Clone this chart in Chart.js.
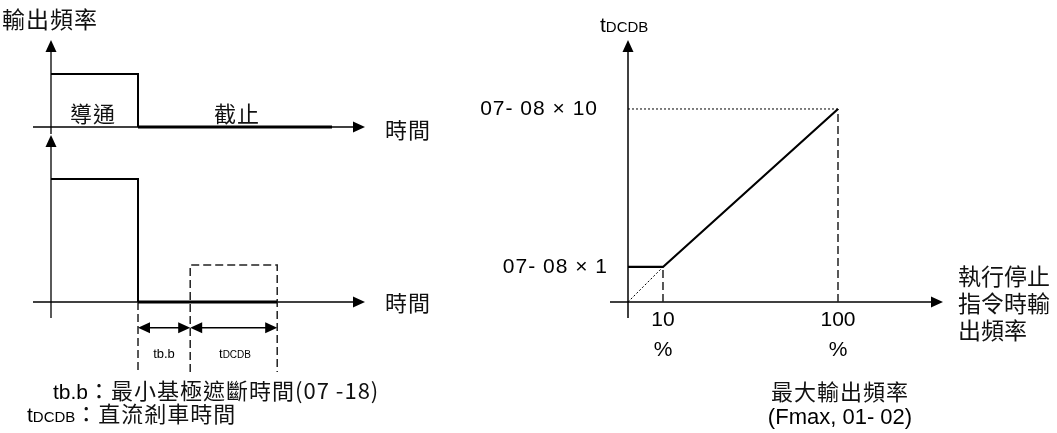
<!DOCTYPE html>
<html>
<head>
<meta charset="utf-8">
<script src="https://cdn.jsdelivr.net/npm/chart.js@4.4.0/dist/chart.umd.min.js"></script>
<style>
  html, body { margin: 0; padding: 0; background: #fff; }
  #stage { position: relative; width: 1057px; height: 433px; overflow: hidden; color: #000;
           font-family: "Liberation Sans", Arial, sans-serif; }
  #stage canvas { position: absolute; }
  .lbl { position: absolute; white-space: nowrap; line-height: 1; transform: translateY(-50%); }
  .mid { transform: translate(-50%, -50%); }
  .zh { font-family: "Noto Sans CJK TC", "Noto Sans CJK SC", sans-serif; font-size: 22px; letter-spacing: 1px; color: #111; }
  .en { font-family: "Liberation Sans", Arial, sans-serif; font-size: 21px; }
  .sub { font-size: 15px; }
</style>
</head>
<body>
<div id="stage">
  <canvas id="c-top" width="560" height="140" style="left:0;top:0"></canvas>
  <canvas id="c-bot" width="560" height="303" style="left:0;top:130px"></canvas>
  <canvas id="c-right" width="617" height="433" style="left:440px;top:0"></canvas>

  <!-- left diagram texts -->
  <div class="lbl zh" style="left:2px;top:18px;font-size:23px">輸出頻率</div>
  <div class="lbl zh" style="left:70px;top:112px">導通</div>
  <div class="lbl zh" style="left:214px;top:112px">截止</div>
  <div class="lbl zh" style="left:385px;top:128px">時間</div>
  <div class="lbl zh" style="left:385px;top:301px">時間</div>
  <div class="lbl en mid" style="left:164px;top:353px;font-size:13px">tb.b</div>
  <div class="lbl en mid" style="left:235px;top:353px;font-size:13px">t<span style="font-size:10px">DCDB</span></div>
  <div class="lbl" style="left:53px;top:390px"><span class="en">tb.b</span><span class="zh">：最小基極遮斷時間(07 -18)</span></div>
  <div class="lbl" style="left:27px;top:413px"><span class="en">t<span class="sub">DCDB</span></span><span class="zh">：直流剎車時間</span></div>

  <!-- right diagram texts -->
  <div class="lbl en" style="left:600px;top:24px">t<span class="sub">DCDB</span></div>
  <div class="lbl zh" style="left:958px;top:302px;line-height:27px;font-size:23px;letter-spacing:0">執行停止<br>指令時輸<br>出頻率</div>
  <div class="lbl zh mid" style="left:840px;top:390px">最大輸出頻率</div>
  <div class="lbl en mid" style="left:840px;top:417px;font-size:22px">(Fmax, 01- 02)</div>
</div>

<script>
// ---- left: output frequency against time (schematic time units) ----
const topTraceT = [0, 10, 10, 32.3];     // run, stop command, off until the end of the trace
const topTraceF = [1, 1, 0, 0];
const botTraceT = [0, 10, 10, 26];
const botTraceF = [1, 1, 0, 0];
const stopGuideT = [10, 10];
const stopGuideF = [0, -0.57];
const dcBoxT = [16, 16, 26, 26];         // tDCDB window after tb.b
const dcBoxF = [-0.57, 0.3, 0.3, -0.57];
const spanFrom = [10, 16];               // tb.b, tDCDB
const spanTo = [16, 26];
const spanLevel = -0.21;

// ---- right: tDCDB against output frequency at stop ----
const freqAxisStart = 6.31;              // % Fmax where the axes cross
const dcAxisStart = 0.6;                 // multiples of 07-08 where the axes cross
const freqTicks = [10, 100];
const freqTickLabels = [['10', '%'], ['100', '%']];
const dcTicks = [1, 10];
const dcTickLabels = ['07- 08 × 1', '07- 08 × 10'];
const curveFreq = [freqAxisStart, 10, 100];
const curveDc = [1, 1, 10];
const propFreq = [freqAxisStart, 10];
const propDc = [dcAxisStart, 1];
const topGuideFreq = [freqAxisStart, 100];
const topGuideDc = [10, 10];

const pts = (xs, ys) => xs.map((x, i) => ({ x: x, y: ys[i] }));

function arrowHead(ctx, x, y, ang, len, half) {
  ctx.save();
  ctx.translate(x, y);
  ctx.rotate(ang);
  ctx.beginPath();
  ctx.moveTo(0, 0);
  ctx.lineTo(-len, -half);
  ctx.lineTo(-len, half);
  ctx.closePath();
  ctx.fill();
  ctx.restore();
}

function strokeLine(ctx, x0, y0, x1, y1) {
  ctx.beginPath();
  ctx.moveTo(x0, y0);
  ctx.lineTo(x1, y1);
  ctx.stroke();
}

// draws the arrowed axes, span arrows and tick labels
const diagramPlugin = {
  id: 'diagram',
  beforeDatasetsDraw(chart, args, opts) {
    const { ctx, chartArea: a } = chart;
    ctx.save();
    ctx.strokeStyle = '#000';
    ctx.fillStyle = '#000';
    ctx.lineWidth = opts.axisWidth;
    strokeLine(ctx, a.left - opts.overLeft, a.bottom, a.right - 8, a.bottom);
    arrowHead(ctx, a.right, a.bottom, 0, 12, 5.5);
    strokeLine(ctx, a.left, a.bottom + opts.overBottom, a.left, a.top + 8);
    arrowHead(ctx, a.left, a.top, -Math.PI / 2, 12, 5.5);
    ctx.restore();
  },
  afterDatasetsDraw(chart, args, opts) {
    const { ctx, chartArea: a, scales } = chart;
    ctx.save();
    ctx.strokeStyle = '#000';
    ctx.fillStyle = '#000';
    if (opts.spans) {
      ctx.lineWidth = 1.5;
      const py = scales.y.getPixelForValue(opts.spans.at);
      opts.spans.from.forEach(function (f, i) {
        const x0 = scales.x.getPixelForValue(f);
        const x1 = scales.x.getPixelForValue(opts.spans.to[i]);
        strokeLine(ctx, x0 + 6, py, x1 - 6, py);
        arrowHead(ctx, x1, py, 0, 12, 5.5);
        arrowHead(ctx, x0, py, Math.PI, 12, 5.5);
      });
    }
    ctx.font = '21px "Liberation Sans", Arial, sans-serif';
    ctx.textBaseline = 'middle';
    if (opts.xTicks) {
      ctx.textAlign = 'center';
      opts.xTicks.values.forEach(function (v, i) {
        const px = scales.x.getPixelForValue(v);
        opts.xTicks.labels[i].forEach(function (line, j) {
          ctx.fillText(line, px, a.bottom + 18 + j * 30);
        });
      });
    }
    if (opts.yTicks) {
      ctx.textAlign = 'right';
      ctx.letterSpacing = '1px';
      opts.yTicks.values.forEach(function (v, i) {
        const py = scales.y.getPixelForValue(v);
        ctx.fillText(opts.yTicks.labels[i], a.left - opts.yTicks.gaps[i], py);
      });
    }
    ctx.restore();
  }
};

function lineSet(data, style) {
  return Object.assign({
    data: data,
    borderColor: '#000',
    borderWidth: 2,
    pointRadius: 0,
    tension: 0,
    fill: false,
    clip: false
  }, style);
}

const traceStyle = {
  segment: { borderWidth: c => (c.p0.parsed.y === 0 && c.p1.parsed.y === 0) ? 3 : 2 }
};
const dashStyle = { borderColor: '#222', borderWidth: 1.5, borderDash: [8, 4] };
const dotStyle = { borderColor: '#000', borderWidth: 1, borderDash: [2, 2] };

function makeChart(id, datasets, padding, xScale, yScale, diagram) {
  return new Chart(document.getElementById(id), {
    type: 'line',
    data: { datasets: datasets },
    options: {
      responsive: false,
      animation: false,
      events: [],
      layout: { padding: padding },
      plugins: { legend: { display: false }, tooltip: { enabled: false }, diagram: diagram },
      scales: {
        x: Object.assign({ type: 'linear', display: false, bounds: 'data' }, xScale),
        y: Object.assign({ type: 'linear', display: false, bounds: 'data' }, yScale)
      }
    },
    plugins: [diagramPlugin]
  });
}

// top left: conduction / cut-off
makeChart('c-top',
  [lineSet(pts(topTraceT, topTraceF), traceStyle)],
  { left: 51, right: 195, top: 40, bottom: 13 },
  { min: 0, max: 36.09 },
  { min: 0, max: 1.64 },
  { axisWidth: 1.3, overLeft: 18, overBottom: 7 });

// bottom left: tb.b then tDCDB
makeChart('c-bot',
  [
    lineSet(pts(botTraceT, botTraceF), traceStyle),
    lineSet(pts(stopGuideT, stopGuideF), dashStyle),
    lineSet(pts(dcBoxT, dcBoxF), dashStyle)
  ],
  { left: 51, right: 195, top: 5, bottom: 131 },
  { min: 0, max: 36.09 },
  { min: 0, max: 1.358 },
  { axisWidth: 1.3, overLeft: 18, overBottom: 16,
    spans: { from: spanFrom, to: spanTo, at: spanLevel } });

// right: tDCDB vs output frequency
makeChart('c-right',
  [
    lineSet(pts(curveFreq, curveDc), { borderWidth: 2.2 }),
    lineSet(pts(propFreq, propDc), dotStyle),
    lineSet(pts(topGuideFreq, topGuideDc), dotStyle),
    lineSet(pts([freqTicks[0], freqTicks[0]], [dcAxisStart, dcTicks[0]]), dashStyle),
    lineSet(pts([freqTicks[1], freqTicks[1]], [dcAxisStart, dcTicks[1]]), dashStyle)
  ],
  { left: 188, right: 114, top: 40, bottom: 131 },
  { type: 'logarithmic', min: freqAxisStart, max: 398.1 },
  { type: 'logarithmic', min: dcAxisStart, max: 27.33 },
  { axisWidth: 1.5, overLeft: 18, overBottom: 16,
    xTicks: { values: freqTicks, labels: freqTickLabels },
    yTicks: { values: dcTicks, labels: dcTickLabels, gaps: [20, 30] } });
</script>
</body>
</html>
